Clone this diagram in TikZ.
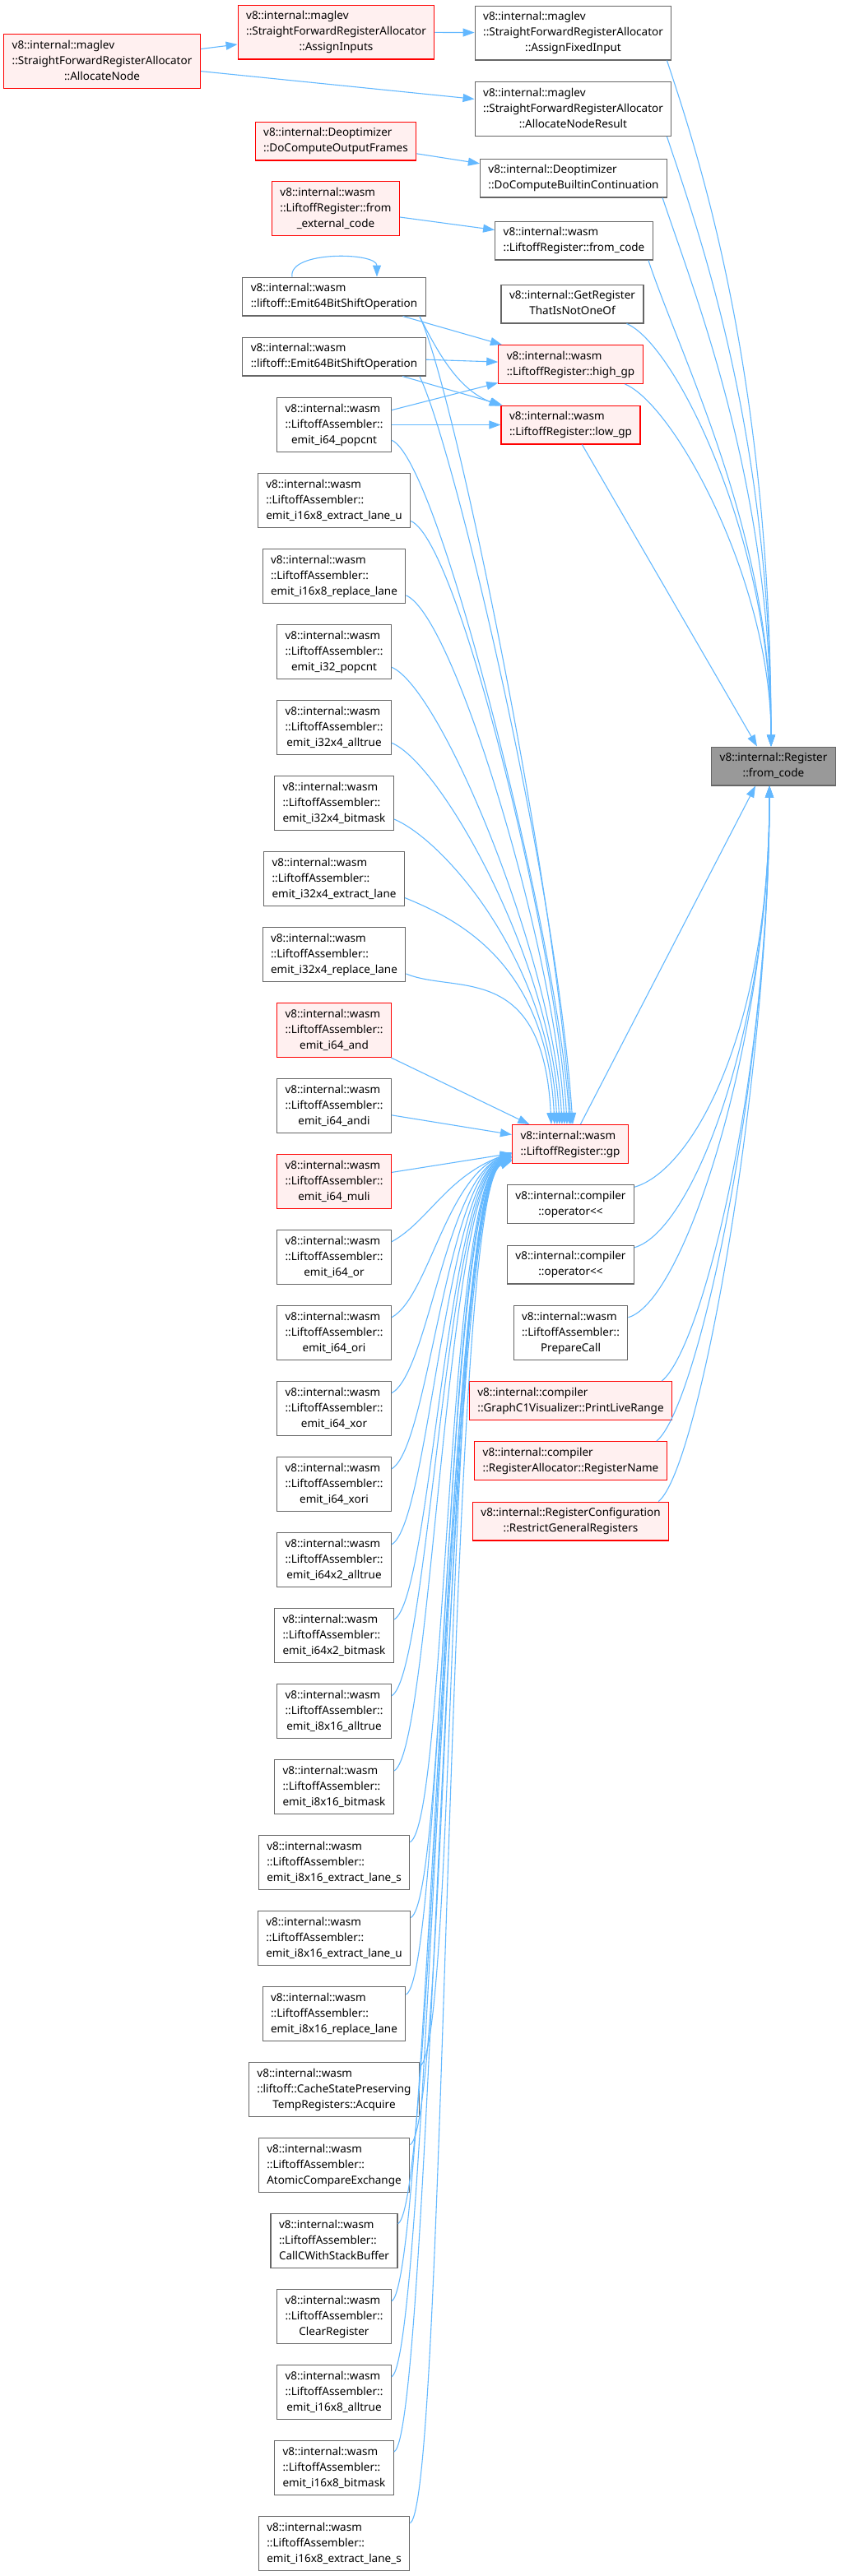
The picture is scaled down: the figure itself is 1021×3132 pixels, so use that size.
\documentclass[tikz,border=0pt]{standalone}
\usepackage{fontspec}
\setmainfont{Noto Sans}
\usetikzlibrary{arrows.meta,calc}
\definecolor{dxedge}{RGB}{99,184,255}
\definecolor{dxred}{RGB}{255,0,0}
\definecolor{dxpink}{RGB}{255,240,240}
\definecolor{dxgrey}{RGB}{102,102,102}
\definecolor{dxcur}{RGB}{153,153,153}
% all lines but the last flush left, the last one centred
\newcommand{\dlbl}[2]{\begin{tabular}{@{}l@{}}#1\\\multicolumn{1}{@{}c@{}}{#2}\end{tabular}}
\newcommand{\lasm}{v8::internal::wasm\\::LiftoffAssembler::}

\begin{document}
\begin{tikzpicture}[
    x=1pt, y=-1pt,
    fn/.style={draw=dxgrey, fill=white, line width=1.2pt, inner xsep=10pt, inner ysep=4.4pt,
               font=\fontsize{13.5}{19}\selectfont},
    hl/.style={fn, draw=dxred, fill=dxpink},
    cur/.style={fn, fill=dxcur},
    edge/.style={-{Triangle[length=14pt,width=10pt]}, dxedge, line width=1.1pt}
]
\useasboundingbox (0,0) rectangle (1021,3132);

% Callers at the top
\node[hl] (alloc) at (124,74.5) {\dlbl{v8::internal::maglev\\::StraightForwardRegisterAllocator}{::AllocateNode}};
\node[hl] (assign) at (408.5,39) {\dlbl{v8::internal::maglev\\::StraightForwardRegisterAllocator}{::AssignInputs}};
\node[fn] (fixed) at (696.5,40) {\dlbl{v8::internal::maglev\\::StraightForwardRegisterAllocator}{::AssignFixedInput}};
\node[fn] (result) at (696.5,132.5) {\dlbl{v8::internal::maglev\\::StraightForwardRegisterAllocator}{::AllocateNodeResult}};
\node[hl] (frames) at (408,171.5) {\dlbl{v8::internal::Deoptimizer}{::DoComputeOutputFrames}};
\node[fn] (builtin) at (697,216.5) {\dlbl{v8::internal::Deoptimizer}{::DoComputeBuiltinContinuation}};
\node[hl] (extcode) at (408,253.5) {\dlbl{v8::internal::wasm\\::LiftoffRegister::from}{\_external\_code}};
\node[fn] (wcode) at (697.5,292.5) {\dlbl{v8::internal::wasm}{::LiftoffRegister::from\_code}};
\node[fn] (notoneof) at (695.5,369.5) {\dlbl{v8::internal::GetRegister}{ThatIsNotOneOf}};
\node[hl] (highgp) at (693.5,443) {\dlbl{v8::internal::wasm}{::LiftoffRegister::high\_gp}};
\node[hl] (lowgp) at (693.5,516.5) {\dlbl{v8::internal::wasm}{::LiftoffRegister::low\_gp}};
\node[fn] (shiftA) at (406,360.5) {\dlbl{v8::internal::wasm}{::liftoff::Emit64BitShiftOperation}};
\node[fn] (shiftB) at (406,433.5) {\dlbl{v8::internal::wasm}{::liftoff::Emit64BitShiftOperation}};

% Middle column
\node[hl] (gp) at (693,1391) {\dlbl{v8::internal::wasm}{::LiftoffRegister::gp}};
\node[fn] (opA) at (693.5,1464) {\dlbl{v8::internal::compiler}{::operator<{}<}};
\node[fn] (opB) at (693.5,1537.5) {\dlbl{v8::internal::compiler}{::operator<{}<}};
\node[fn] (prep) at (693.5,1620.5) {\dlbl{\lasm}{PrepareCall}};
\node[hl] (liverange) at (693.5,1703) {\dlbl{v8::internal::compiler}{::GraphC1Visualizer::PrintLiveRange}};
\node[hl] (regname) at (693.5,1776) {\dlbl{v8::internal::compiler}{::RegisterAllocator::RegisterName}};
\node[hl] (restrict) at (693.5,1849.5) {\dlbl{v8::internal::RegisterConfiguration}{::RestrictGeneralRegisters}};

% The function itself
\node[cur] (regcode) at (940,931.5) {\dlbl{v8::internal::Register}{::from\_code}};

% Left column of LiftoffAssembler callers
\foreach \i/\sty/\first/\last in {
  0/fn/\lasm/emit\_i64\_popcnt,
  1/fn/\lasm/emit\_i16x8\_extract\_lane\_u,
  2/fn/\lasm/emit\_i16x8\_replace\_lane,
  3/fn/\lasm/emit\_i32\_popcnt,
  4/fn/\lasm/emit\_i32x4\_alltrue,
  5/fn/\lasm/emit\_i32x4\_bitmask,
  6/fn/\lasm/emit\_i32x4\_extract\_lane,
  7/fn/\lasm/emit\_i32x4\_replace\_lane,
  8/hl/\lasm/emit\_i64\_and,
  9/fn/\lasm/emit\_i64\_andi,
  10/hl/\lasm/emit\_i64\_muli,
  11/fn/\lasm/emit\_i64\_or,
  12/fn/\lasm/emit\_i64\_ori,
  13/fn/\lasm/emit\_i64\_xor,
  14/fn/\lasm/emit\_i64\_xori,
  15/fn/\lasm/emit\_i64x2\_alltrue,
  16/fn/\lasm/emit\_i64x2\_bitmask,
  17/fn/\lasm/emit\_i8x16\_alltrue,
  18/fn/\lasm/emit\_i8x16\_bitmask,
  19/fn/\lasm/emit\_i8x16\_extract\_lane\_s,
  20/fn/\lasm/emit\_i8x16\_extract\_lane\_u,
  21/fn/\lasm/emit\_i8x16\_replace\_lane,
  22/fn/{v8::internal::wasm\\::liftoff::CacheStatePreserving}/TempRegisters::Acquire,
  23/fn/\lasm/AtomicCompareExchange,
  24/fn/\lasm/CallCWithStackBuffer,
  25/fn/\lasm/ClearRegister,
  26/fn/\lasm/emit\_i16x8\_alltrue,
  27/fn/\lasm/emit\_i16x8\_bitmask,
  28/fn/\lasm/emit\_i16x8\_extract\_lane\_s} {
  \node[\sty] (l\i) at (406,516.5+92*\i) {\dlbl{\first}{\last}};
}

% Calls at the top
\draw[edge] (alloc) -- (assign);
\draw[edge] (alloc) -- (result);
\draw[edge] (assign) -- (fixed);
\draw[edge] (frames) -- (builtin);
\draw[edge] (extcode) -- (wcode);

% Emit64BitShiftOperation
\draw[edge] ($(shiftA.north)+(-51,0)$) .. controls +(-5,-32) and +(0,-30) .. ($(shiftA.north)+(52,0)$);
\draw[edge] (shiftA) -- (highgp);
\draw[edge] ($(shiftA.south east)+(-8,0)$) .. controls +(25,50) and +(-50,-20) .. (lowgp.165);
\draw[edge] ($(shiftA.south east)+(-8,0)$) .. controls +(40,80) and +(-20,-300) .. ([xshift=1pt]gp.north);
\draw[edge] (shiftB) -- (highgp);
\draw[edge] (shiftB) -- (lowgp);
\draw[edge] ($(shiftB.south east)+(-8,0)$) .. controls +(40,80) and +(-20,-300) .. ([xshift=3pt]gp.north);
\draw[edge] (l0) -- (highgp);
\draw[edge] (l0) -- (lowgp);

% into gp from above
\foreach \i/\dx in {0/-1,1/-4,2/-7,3/-10,4/-13,5/-16,6/-19,7/-23}
  \draw[edge] (l\i.-15) .. controls +(60,25) and +(-10,-200) .. ([xshift=\dx pt]gp.north);
\draw[edge] (l8) -- (gp);
\draw[edge] (l9) -- (gp);
\draw[edge] (l10) -- (gp);

% into gp from below
\foreach \i [evaluate=\i as \a using int(188+(\i-11)/2)] in {11,...,28}
  \draw[edge] (l\i.15) .. controls +(45,-25) and +(-80,30) .. (gp.\a);

% into Register::from_code from above
\foreach \n/\c in {fixed/450, result/380, builtin/320, wcode/260}
  \draw[edge] ($(\n.south east)+(-6,0)$) .. controls +(40,120) and +(0,-\c) .. ([xshift=-3pt]regcode.north);
\draw[edge] (notoneof.-20) .. controls +(60,25) and +(0,-250) .. ([xshift=-3pt]regcode.north);
\draw[edge] (highgp.-20) .. controls +(60,25) and +(0,-200) .. ([xshift=-3pt]regcode.north);
\draw[edge] (lowgp) -- ([xshift=-20pt]regcode.north);

% into Register::from_code from below
\draw[edge] (gp) -- ([xshift=-22pt]regcode.south);
\foreach \n in {opA,opB,prep}
  \draw[edge] (\n.15) .. controls +(70,-20) and +(0,300) .. ([xshift=-5pt]regcode.south);
\foreach \n in {liverange,regname,restrict}
  \draw[edge] ($(\n.north east)+(-13,0)$) .. controls +(50,-40) and +(0,350) .. ([xshift=-5pt]regcode.south);

\end{tikzpicture}
\end{document}
